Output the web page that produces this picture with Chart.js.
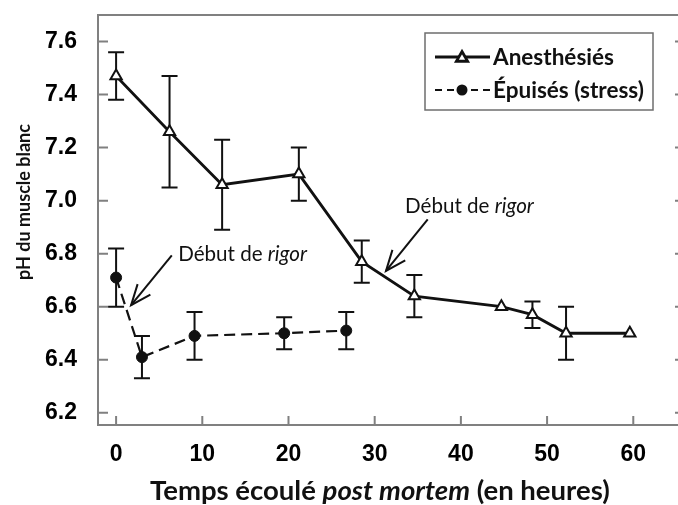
<!DOCTYPE html>
<html>
<head>
<meta charset="utf-8">
<script src="https://cdn.jsdelivr.net/npm/chart.js@4.4.1/dist/chart.umd.min.js"></script>
<style>
  html, body { margin: 0; padding: 0; background: #fff; overflow: hidden; width: 678px; height: 505px; }
  canvas { position: absolute; left: 0; top: 0; }
</style>
</head>
<body>
<canvas id="c" width="700" height="505"></canvas>
<script>
// ---- Data ----
const anesthHours = [0, 6.2, 12.3, 21.2, 28.5, 34.6, 44.7, 48.3, 52.2, 59.6];
const anesthPH    = [7.47, 7.26, 7.06, 7.10, 6.77, 6.64, 6.60, 6.57, 6.50, 6.50];
const anesthLow   = [7.38, 7.05, 6.89, 7.00, 6.69, 6.56, null, 6.52, 6.40, null];
const anesthHigh  = [7.56, 7.47, 7.23, 7.20, 6.85, 6.72, null, 6.62, 6.60, null];

const stressHours = [0, 3.0, 9.1, 19.5, 26.7];
const stressPH    = [6.71, 6.41, 6.49, 6.50, 6.51];
const stressLow   = [6.60, 6.33, 6.40, 6.44, 6.44];
const stressHigh  = [6.82, 6.49, 6.58, 6.56, 6.58];

const xTickValues = [0, 10, 20, 30, 40, 50, 60];
const yTickValues = [6.2, 6.4, 6.6, 6.8, 7.0, 7.2, 7.4, 7.6];

const seriesNames = ['Anesthésiés', 'Épuisés (stress)'];
const xTitleParts = [['Temps écoulé ', false], ['post mortem', true], [' (en heures)', false]];
const yTitle = 'pH du muscle blanc';
const noteParts = [['Début de ', false], ['rigor', true]];
// annotation anchors (data units): text left/baseline, arrow tail, arrow tip
const notes = [
  { tx: 7.2, ty: 6.773, x0: 6.46, y0: 6.794, x1: 1.74, y1: 6.606 },
  { tx: 33.52, ty: 6.952, x0: 36.15, y0: 6.929, x1: 31.31, y1: 6.735 }
];

const INK = '#111';
const FRAME = '#808080';

function toXY(xs, ys) { return xs.map((x, i) => ({ x: x, y: ys[i] })); }

function fitFont(ctx, parts, target, family, weight) {
  let base = 20, w = 0;
  parts.forEach(([t, it]) => { ctx.font = (it ? 'italic ' : '') + weight + ' ' + base + 'px ' + family; w += ctx.measureText(t).width; });
  return base * target / w;
}
function drawParts(ctx, parts, x, y, size, family, weight) {
  let cx = x;
  parts.forEach(([t, it]) => {
    ctx.font = (it ? 'italic ' : '') + weight + ' ' + size + 'px ' + family;
    ctx.fillText(t, cx, y);
    cx += ctx.measureText(t).width;
  });
}
function arrow(ctx, x0, y0, x1, y1) {
  ctx.beginPath(); ctx.moveTo(x0, y0); ctx.lineTo(x1, y1); ctx.stroke();
  const a = Math.atan2(y0 - y1, x0 - x1), L = 22, d = 22 * Math.PI / 180;
  ctx.beginPath();
  ctx.moveTo(x1 + L * Math.cos(a - d), y1 + L * Math.sin(a - d));
  ctx.lineTo(x1, y1);
  ctx.lineTo(x1 + L * Math.cos(a + d), y1 + L * Math.sin(a + d));
  ctx.stroke();
}

const decorations = {
  id: 'decorations',
  beforeDatasetsDraw(chart) {
    const ctx = chart.ctx, xs = chart.scales.x, ys = chart.scales.y;
    ctx.save();
    ctx.strokeStyle = INK; ctx.lineWidth = 2;
    [[anesthHours, anesthLow, anesthHigh], [stressHours, stressLow, stressHigh]].forEach(([hx, lo, hi]) => {
      hx.forEach((h, i) => {
        if (lo[i] == null) return;
        const px = xs.getPixelForValue(h), pl = ys.getPixelForValue(lo[i]), ph = ys.getPixelForValue(hi[i]);
        ctx.beginPath();
        ctx.moveTo(px, pl); ctx.lineTo(px, ph);
        ctx.moveTo(px - 8, pl); ctx.lineTo(px + 8, pl);
        ctx.moveTo(px - 8, ph); ctx.lineTo(px + 8, ph);
        ctx.stroke();
      });
    });
    ctx.restore();
  },
  afterDraw(chart) {
    const ctx = chart.ctx, xs = chart.scales.x, ys = chart.scales.y, a = chart.chartArea;
    ctx.save();
    // frame
    ctx.strokeStyle = FRAME; ctx.lineWidth = 2;
    ctx.strokeRect(a.left, a.top, a.right - a.left, a.bottom - a.top);
    // inner ticks
    ctx.beginPath();
    ys.ticks.forEach(t => {
      const py = ys.getPixelForValue(t.value);
      ctx.moveTo(a.left, py); ctx.lineTo(a.left + 10, py);
      ctx.moveTo(a.right, py); ctx.lineTo(a.right - 10, py);
    });
    xs.ticks.forEach(t => {
      const px = xs.getPixelForValue(t.value);
      ctx.moveTo(px, a.bottom); ctx.lineTo(px, a.bottom - 9);
    });
    ctx.stroke();

    // annotations
    ctx.fillStyle = INK; ctx.strokeStyle = INK; ctx.lineWidth = 2;
    ctx.textBaseline = 'alphabetic'; ctx.textAlign = 'left';
    const nSize = fitFont(ctx, noteParts, 129, 'Lato', 'normal');
    notes.forEach(n => {
      drawParts(ctx, noteParts, xs.getPixelForValue(n.tx), ys.getPixelForValue(n.ty), nSize, 'Lato', 'normal');
      arrow(ctx, xs.getPixelForValue(n.x0), ys.getPixelForValue(n.y0), xs.getPixelForValue(n.x1), ys.getPixelForValue(n.y1));
    });

    // legend
    ctx.strokeStyle = '#6e6e6e'; ctx.lineWidth = 1.5;
    ctx.strokeRect(425, 33, 228, 77);
    const rows = [57, 90];
    ctx.strokeStyle = INK;
    ctx.lineWidth = 2.8;
    ctx.beginPath(); ctx.moveTo(435, rows[0]); ctx.lineTo(490, rows[0]); ctx.stroke();
    ctx.fillStyle = '#fff';
    Chart.helpers.drawPoint(ctx, { pointStyle: 'triangle', radius: 6.5, borderWidth: 2 }, 462, rows[0] + 1);
    ctx.fillStyle = INK;
    ctx.lineWidth = 2; ctx.setLineDash([7, 5]);
    ctx.beginPath(); ctx.moveTo(435, rows[1]); ctx.lineTo(490, rows[1]); ctx.stroke();
    ctx.setLineDash([]);
    ctx.beginPath(); ctx.arc(462, rows[1], 5.5, 0, Math.PI * 2); ctx.fill();
    const lSize = fitFont(ctx, [[seriesNames[0], false]], 121, 'Lato', 'bold');
    drawParts(ctx, [[seriesNames[0], false]], 493, 64.5, lSize, 'Lato', 'bold');
    drawParts(ctx, [[seriesNames[1], false]], 493, 97.5, lSize, 'Lato', 'bold');

    // axis titles
    const xSize = fitFont(ctx, xTitleParts, 460, 'Lato', 'bold');
    drawParts(ctx, xTitleParts, 150, 500, xSize, 'Lato', 'bold');
    const ySize = fitFont(ctx, [[yTitle, false]], 156, 'Lato', 'bold');
    ctx.translate(30, 202); ctx.rotate(-Math.PI / 2);
    ctx.textAlign = 'center';
    ctx.font = 'bold ' + ySize + 'px Lato';
    ctx.fillText(yTitle, 0, 0);
    ctx.restore();
  }
};

new Chart(document.getElementById('c'), {
  type: 'scatter',
  data: {
    datasets: [
      {
        label: seriesNames[0],
        data: toXY(anesthHours, anesthPH),
        showLine: true,
        borderColor: INK, borderWidth: 2.8,
        pointStyle: 'triangle', pointRadius: 6.5, pointBorderWidth: 2,
        pointBackgroundColor: '#fff', pointBorderColor: INK
      },
      {
        label: seriesNames[1],
        data: toXY(stressHours, stressPH),
        showLine: true,
        borderColor: INK, borderWidth: 2.2, borderDash: [11, 6],
        pointStyle: 'circle', pointRadius: 5.5, pointBorderWidth: 1,
        pointBackgroundColor: INK, pointBorderColor: INK
      }
    ]
  },
  options: {
    responsive: false,
    animation: false,
    layout: { padding: { top: 15, right: 15, left: 0, bottom: 0 } },
    plugins: { legend: { display: false }, tooltip: { enabled: false } },
    scales: {
      x: {
        type: 'linear', min: -2.1, max: 66,
        afterFit: s => { s.height = 80; s.paddingLeft = 0; s.paddingRight = 0; },
        afterBuildTicks: s => { s.ticks = xTickValues.map(v => ({ value: v })); },
        grid: { display: false }, border: { display: false },
        ticks: { color: '#000', padding: 8, font: { family: 'Liberation Sans', weight: 'bold', size: 23 }, callback: v => String(v) }
      },
      y: {
        min: 6.154, max: 7.70,
        afterFit: s => { s.width = 98; s.paddingTop = 0; s.paddingBottom = 0; },
        afterBuildTicks: s => { s.ticks = yTickValues.map(v => ({ value: v })); },
        grid: { display: false }, border: { display: false },
        ticks: { color: '#000', padding: 13, font: { family: 'Liberation Sans', weight: 'bold', size: 23 }, callback: v => Number(v).toFixed(1) }
      }
    }
  },
  plugins: [decorations]
});
</script>
</body>
</html>
